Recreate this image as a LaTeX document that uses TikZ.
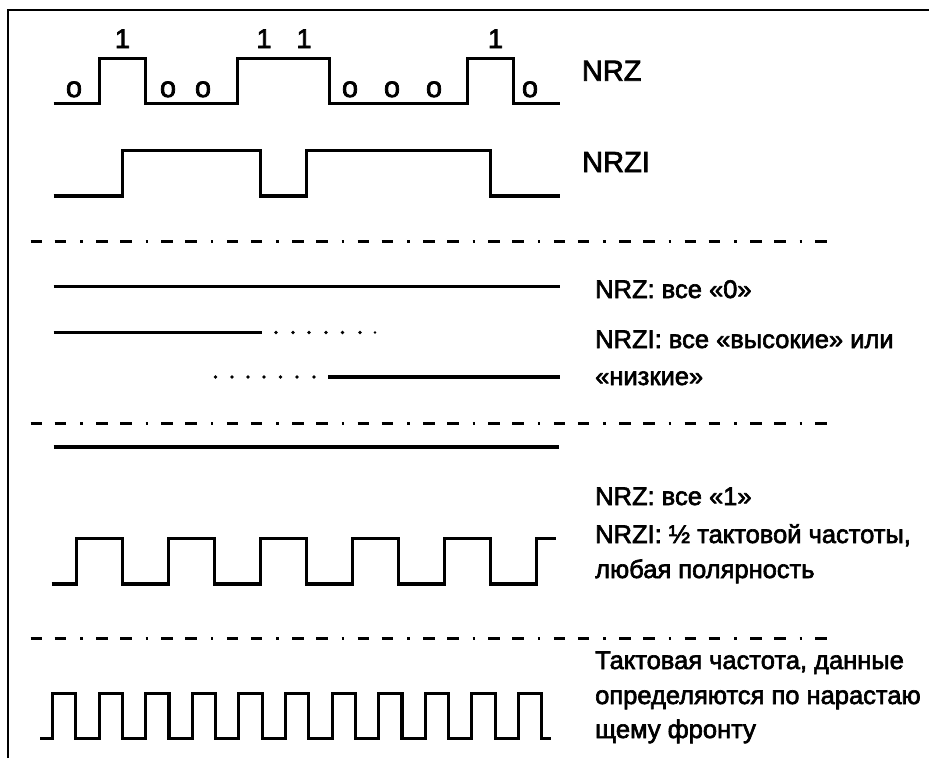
\documentclass[tikz,border=0pt]{standalone}
\usepackage{fontspec}
\setmainfont{Liberation Sans}
\newfontfamily\boldish[RawFeature={embolden=2.5}]{Liberation Sans}
\tikzset{
  wave/.style={line width=3.1pt, line join=miter, line cap=butt},
  frame/.style={line width=2pt},
  sepline/.style={line width=3.2pt, line cap=butt, dash pattern=on 11.5pt off 12.5pt on 11.5pt off 14pt on 2.5pt off 13.4pt},
  dotmark/.style={fill=black, draw=none},
  body/.style={anchor=base west, inner sep=0pt, font=\boldish\fontsize{25.5}{30}\selectfont},
  big/.style={anchor=base west, inner sep=0pt, font=\boldish\fontsize{29}{34}\selectfont},
  one/.style={anchor=base, inner sep=0pt, font=\boldish\fontsize{27}{32}\selectfont},
  zero/.style={anchor=base, inner sep=0pt, font=\boldish\fontsize{29}{34}\selectfont},
}
\begin{document}
\begin{tikzpicture}[x=1pt, y=-1pt]
\useasboundingbox (0,0) rectangle (929,758);
% frame
\draw[frame] (7.7,758) -- (7.7,10.3) -- (929,10.3);
% NRZ waveform
\draw[wave] (53.6,103.5) -- (99.6,103.5) -- (99.6,58.3) -- (145.6,58.3) -- (145.6,103.5)
  -- (237.6,103.5) -- (237.6,58.3) -- (329.6,58.3) -- (329.6,103.5)
  -- (467.6,103.5) -- (467.6,58.3) -- (513.6,58.3) -- (513.6,103.5) -- (559.6,103.5);
% bit labels
\node[zero] (b0) at (74,97) {o};
\node[one]  (b1) at (122.5,48) {1};
\node[zero] (b2) at (168,97) {o};
\node[zero] (b3) at (203,97) {o};
\node[one]  (b4) at (264,48) {1};
\node[one]  (b5) at (304,48) {1};
\node[zero] (b6) at (350,97) {o};
\node[zero] (b7) at (392,97) {o};
\node[zero] (b8) at (434,97) {o};
\node[one]  (b9) at (495.5,48) {1};
\node[zero] (b10) at (530,97) {o};
\node[big] (lnrz) at (581.7,80.7) {NRZ};
% NRZI waveform
\draw[wave] (53.6,196) -- (122.6,196) -- (122.6,150.5) -- (260.6,150.5) -- (260.6,196)
  -- (306.6,196) -- (306.6,150.5) -- (490.6,150.5) -- (490.6,196) -- (559.6,196);
\node[big] (lnrzi) at (582,172) {NRZI};
% separators
\draw[sepline] (30.6,241.7) -- (828,241.7);
\draw[sepline] (30.6,423.2) -- (828,423.2);
\draw[sepline] (30.6,638.5) -- (828,638.5);
% all zeros
\draw[wave] (53.6,286.7) -- (559.6,286.7);
\node[body] (t1) at (595,298) {NRZ: все «0»};
\draw[wave] (53.6,332.5) -- (262,332.5);
\foreach \x in {276,293,309,326,342.5,360} \fill[dotmark] (\x,332.5) circle (1.9);
\fill[dotmark] (375,332.5) circle (1.3);
\foreach \x in {215.5,232,248,264,280.5,297,314} \fill[dotmark] (\x,377) circle (1.9);
\draw[wave] (328,377) -- (559.6,377);
\node[body] (t2) at (595,348) {NRZI: все «высокие» или};
\node[body] (t3) at (595,385) {«низкие»};
% all ones
\draw[wave] (53.6,447) -- (559,447);
\node[body] (t4) at (595,505) {NRZ: все «1»};
\draw[wave] (51.7,584) -- (76.6,584) -- (76.6,538.7) -- (122.6,538.7) -- (122.6,584)
  -- (168.6,584) -- (168.6,538.7) -- (214.6,538.7) -- (214.6,584)
  -- (260.6,584) -- (260.6,538.7) -- (306.6,538.7) -- (306.6,584)
  -- (352.6,584) -- (352.6,538.7) -- (398.6,538.7) -- (398.6,584)
  -- (444.6,584) -- (444.6,538.7) -- (490.6,538.7) -- (490.6,584)
  -- (536.6,584) -- (536.6,538.7) -- (556,538.7);
\node[body] (t5) at (595,543) {NRZI: ½ тактовой частоты,};
\node[body] (t6) at (595,578) {любая полярность};
% clock
\draw[wave] (40.2,738.7)
  \foreach \k in {0,...,10} { -- ({52.5+46.6*\k},738.7) -- ({52.5+46.6*\k},693.5) -- ({75.8+46.6*\k},693.5) -- ({75.8+46.6*\k},738.7) }
  -- (551,738.7);
\node[body] (t7) at (595,669) {Тактовая частота, данные};
\node[body] (t8) at (595,704) {определяются по нарастаю};
\node[body] (t9) at (595,738) {щему фронту};
\end{tikzpicture}
\end{document}
